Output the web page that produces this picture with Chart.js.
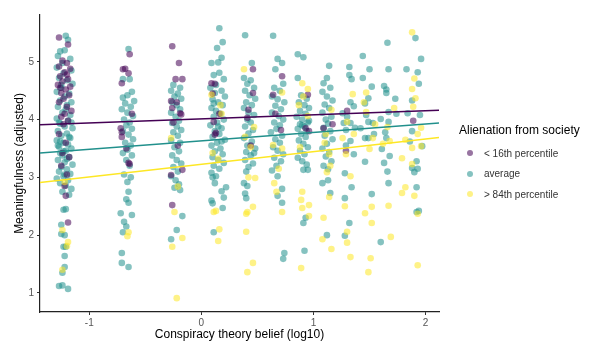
<!DOCTYPE html>
<html>
<head>
<meta charset="utf-8">
<script src="https://cdn.jsdelivr.net/npm/chart.js@4.4.1/dist/chart.umd.min.js"></script>
<style>
  body { margin: 0; background: #fff; font-family: "Liberation Sans", Arial, sans-serif; }
  #wrap { position: relative; width: 591px; height: 342px; }
  #legend { position: absolute; left: 459px; top: 123px; color: #000; }
  #legend .ttl { font-size: 12px; margin-bottom: 6px; white-space: nowrap; }
  #legend .row { height: 20.5px; font-size: 10px; color: #333; display: flex; align-items: center; white-space: nowrap; }
  #legend .dot { width: 6px; height: 6px; border-radius: 50%; margin: 0 11px 0 8px; }
</style>
</head>
<body>
<div id="wrap">
  <canvas id="chart" width="591" height="342"></canvas>
  <div id="legend"></div>
</div>
<script>
// axis ticks
const xTicks = [-1, 0, 1, 2];
const yTicks = [1, 2, 3, 4, 5];

// group labels + colours (viridis)
const groupNames = ["< 16th percentile", "average", "> 84th percentile"];
const groupColors = ["#440154", "#21908C", "#FDE725"];

// fitted lines: [x, y] at both ends of the panel
const lineLow  = [[-1.44, 3.91], [2.12, 4.16]];
const lineAvg  = [[-1.44, 3.42], [2.12, 3.94]];
const lineHigh = [[-1.44, 2.91], [2.12, 3.69]];

// points, [x, y]
const lowPts = [
  [-1.27,5.42],[-1.19,5.30],[-1.24,5.02],[-1.20,4.98],[-1.27,4.92],[-1.17,4.88],[-1.22,4.82],[-1.26,4.75],
  [-1.19,4.70],[-1.24,4.66],[-1.28,4.60],[-1.17,4.57],[-1.21,4.52],[-1.25,4.46],[-1.18,4.42],[-1.23,4.36],
  [-1.27,4.30],[-1.20,4.22],[-1.16,4.15],[-1.25,4.05],[-1.19,3.98],[-1.23,3.92],[-1.27,3.75],[-1.21,3.60],
  [-1.24,3.42],[-1.18,3.35],[-1.25,3.20],[-1.20,3.05],[-1.22,2.85],[-1.21,2.68],[-1.19,2.22],[-1.20,4.78],
  [-1.26,4.55],[-1.22,4.10],
  [-0.64,5.13],[-0.68,4.88],[-0.70,4.87],[-0.71,4.63],[-0.65,4.80],[-0.72,3.85],[-0.71,3.78],[-0.71,3.70],
  [-0.65,3.25],[-0.64,3.23],[-0.62,4.10],[-0.67,3.50],
  [-0.26,5.27],[-0.20,4.98],[-0.23,4.70],[-0.17,4.70],[-0.27,4.32],[-0.22,4.30],[-0.26,4.20],[-0.19,4.11],
  [-0.18,4.09],[-0.25,3.95],[-0.21,3.55],[-0.27,3.04],[-0.17,3.13],[-0.26,2.52],
  [0.09,4.63],[0.12,4.62],[0.11,3.96],[0.13,3.77],[0.12,3.74],[0.16,4.10],[0.10,4.45],
  [0.46,4.87],[0.46,4.46],[0.42,4.17],[0.41,4.03],[0.44,3.55],
  [0.72,4.75],[0.64,4.43],[0.71,3.82],[0.66,4.10],
  [0.95,4.43],[0.96,3.80],[0.93,3.85],
  [1.09,3.85],[1.17,3.92],
  [1.30,4.15],[1.29,3.46],
  [1.89,3.98]
];

const avgPts = [
  [-1.21,5.45],[-1.19,5.38],[-1.26,5.18],[-1.22,5.20],[-1.28,5.10],[-1.17,5.05],[-1.24,4.98],[-1.29,4.90],
  [-1.16,4.85],[-1.23,4.80],[-1.27,4.72],[-1.20,4.68],[-1.15,4.62],[-1.25,4.55],[-1.29,4.48],[-1.18,4.45],
  [-1.22,4.40],[-1.26,4.33],[-1.16,4.30],[-1.28,4.22],[-1.21,4.18],[-1.24,4.12],[-1.17,4.08],[-1.29,4.02],
  [-1.19,3.98],[-1.26,3.93],[-1.22,3.88],[-1.15,3.85],[-1.28,3.80],[-1.20,3.76],[-1.25,3.72],[-1.17,3.68],
  [-1.29,3.64],[-1.23,3.60],[-1.19,3.57],[-1.27,3.53],[-1.16,3.50],[-1.21,3.46],[-1.26,3.42],[-1.24,3.38],
  [-1.18,3.35],[-1.28,3.30],[-1.22,3.26],[-1.15,3.22],[-1.25,3.18],[-1.20,3.14],[-1.27,3.10],[-1.17,3.06],
  [-1.23,3.02],[-1.29,2.98],[-1.19,2.95],[-1.26,2.90],[-1.21,2.86],[-1.16,2.80],[-1.24,2.75],[-1.18,2.70],
  [-1.25,4.60],[-1.20,4.25],[-1.27,3.95],[-1.18,3.70],[-1.23,3.45],[-1.26,3.62],[-1.20,3.32],[-1.28,3.55],
  [-1.16,3.95],[-1.22,3.05],
  [-1.23,2.44],[-1.21,2.45],[-1.25,2.18],[-1.25,2.02],[-1.22,2.00],[-1.23,1.80],[-1.21,1.80],[-1.22,1.64],
  [-1.22,1.45],[-1.24,1.35],[-1.27,1.12],[-1.24,1.13],[-1.19,1.07],
  [-0.65,5.22],[-0.70,4.70],[-0.64,4.70],[-0.62,4.48],[-0.70,4.38],[-0.66,4.42],[-0.60,4.32],[-0.68,4.28],
  [-0.63,4.22],[-0.71,4.18],[-0.66,4.12],[-0.61,4.06],[-0.69,4.00],[-0.64,3.95],[-0.67,3.90],[-0.62,3.84],
  [-0.70,3.80],[-0.65,3.74],[-0.61,3.66],[-0.68,3.60],[-0.63,3.55],[-0.66,3.48],[-0.70,3.42],[-0.62,3.38],
  [-0.67,3.30],[-0.64,3.20],[-0.69,3.05],[-0.63,3.00],[-0.66,2.92],[-0.65,2.75],[-0.67,2.62],[-0.65,2.56],
  [-0.72,2.38],[-0.62,2.35],[-0.69,2.23],[-0.67,2.15],[-0.70,2.05],[-0.71,1.69],[-0.71,1.52],[-0.65,1.45],
  [-0.25,4.60],[-0.19,4.55],[-0.27,4.50],[-0.21,4.45],[-0.24,4.40],[-0.18,4.36],[-0.26,4.30],[-0.22,4.25],
  [-0.19,4.18],[-0.27,4.12],[-0.23,4.05],[-0.20,3.98],[-0.26,3.94],[-0.22,3.88],[-0.18,3.82],[-0.25,3.78],
  [-0.21,3.72],[-0.27,3.64],[-0.19,3.60],[-0.24,3.52],[-0.20,3.45],[-0.26,3.38],[-0.22,3.30],[-0.18,3.24],
  [-0.25,3.18],[-0.21,3.10],[-0.27,3.02],[-0.23,2.95],[-0.20,2.88],[-0.24,2.82],[-0.19,2.78],[-0.17,2.33],
  [-0.22,2.09],[-0.27,1.93],
  [0.16,5.58],[0.19,5.34],[0.14,5.24],[0.18,5.07],[0.09,4.98],[0.15,4.99],[0.16,4.81],[0.11,4.77],
  [0.20,4.70],[0.13,4.60],[0.08,4.55],[0.18,4.50],[0.12,4.46],[0.21,4.40],[0.10,4.35],[0.15,4.30],
  [0.19,4.25],[0.09,4.20],[0.13,4.15],[0.17,4.10],[0.11,4.05],[0.20,4.00],[0.14,3.95],[0.08,3.90],
  [0.18,3.85],[0.12,3.80],[0.16,3.75],[0.10,3.70],[0.21,3.65],[0.14,3.60],[0.09,3.55],[0.17,3.50],
  [0.12,3.45],[0.19,3.40],[0.10,3.35],[0.15,3.30],[0.20,3.25],[0.11,3.20],[0.16,3.15],[0.09,3.08],
  [0.13,3.02],[0.10,3.00],[0.12,2.90],[0.22,2.83],[0.18,2.76],[0.09,2.60],[0.20,2.65],[0.10,2.55],
  [0.19,2.47],[0.11,2.05],[0.15,3.88],[0.18,3.62],[0.11,4.28],
  [0.39,5.46],[0.45,4.98],[0.38,4.72],[0.44,4.68],[0.41,4.62],[0.47,4.55],[0.39,4.50],[0.43,4.42],
  [0.48,4.36],[0.40,4.30],[0.45,4.25],[0.38,4.20],[0.42,4.12],[0.47,4.08],[0.41,4.00],[0.44,3.95],
  [0.39,3.88],[0.46,3.82],[0.42,3.76],[0.38,3.68],[0.45,3.62],[0.41,3.55],[0.48,3.50],[0.40,3.44],
  [0.44,3.38],[0.39,3.30],[0.46,3.24],[0.42,3.18],[0.40,3.10],[0.38,2.90],[0.41,2.85],[0.39,2.72],
  [0.40,2.64],[0.47,3.42],
  [0.64,5.45],[0.68,5.05],[0.72,4.98],[0.66,4.87],[0.73,4.62],[0.65,4.55],[0.70,4.50],[0.63,4.40],
  [0.68,4.35],[0.74,4.30],[0.66,4.24],[0.71,4.18],[0.63,4.12],[0.69,4.06],[0.73,4.00],[0.65,3.95],
  [0.70,3.90],[0.67,3.84],[0.62,3.78],[0.72,3.72],[0.66,3.66],[0.70,3.60],[0.64,3.52],[0.68,3.46],
  [0.73,3.40],[0.65,3.34],[0.71,3.28],[0.67,3.20],[0.63,3.12],[0.68,3.02],[0.72,2.80],[0.68,2.68],
  [0.72,2.56],[0.74,1.69],[0.73,1.59],
  [0.86,5.13],[0.91,5.08],[0.86,4.72],[0.89,4.42],[0.94,4.36],[0.87,4.30],[0.92,4.25],[0.96,4.20],
  [0.88,4.15],[0.93,4.10],[0.85,4.05],[0.90,4.00],[0.95,3.95],[0.88,3.92],[0.92,3.88],[0.86,3.84],
  [0.94,3.80],[0.89,3.75],[0.93,3.70],[0.87,3.64],[0.91,3.58],[0.95,3.52],[0.88,3.46],[0.92,3.40],
  [0.86,3.34],[0.90,3.28],[0.94,3.22],[0.91,3.13],[0.95,3.13],[0.93,2.30],[0.91,2.21],[0.92,1.73],
  [0.96,3.98],[0.90,3.90],
  [1.14,4.93],[1.09,4.63],[1.12,4.72],[1.15,4.55],[1.08,4.48],[1.12,4.40],[1.17,4.33],[1.10,4.26],
  [1.14,4.20],[1.08,4.12],[1.16,4.05],[1.11,4.00],[1.13,3.93],[1.09,3.86],[1.15,3.80],[1.10,3.72],
  [1.17,3.66],[1.12,3.58],[1.08,3.50],[1.14,3.44],[1.11,3.36],[1.16,3.28],[1.09,3.20],[1.13,3.14],
  [1.08,2.90],[1.13,2.95],[1.15,2.73],[1.12,2.00],
  [1.32,4.91],[1.32,4.77],[1.34,4.70],[1.36,4.23],[1.33,4.30],[1.26,4.11],[1.27,3.94],[1.33,3.94],
  [1.29,3.82],[1.37,3.86],[1.33,3.63],[1.29,3.55],[1.28,3.07],[1.34,2.83],[1.28,2.64],[1.32,2.21],
  [1.28,1.99],[1.36,3.40],[1.30,4.05],
  [1.44,5.10],[1.50,4.87],[1.44,4.72],[1.52,4.57],[1.49,4.37],[1.46,4.28],[1.47,4.08],[1.49,3.96],
  [1.53,3.94],[1.46,3.68],[1.49,3.68],[1.46,3.27],[1.52,2.71],[1.42,3.85],[1.54,3.75],
  [1.66,5.33],[1.67,4.87],[1.63,4.58],[1.65,4.52],[1.65,4.46],[1.73,4.36],[1.67,4.13],[1.74,4.10],
  [1.60,4.01],[1.67,3.96],[1.64,3.78],[1.65,3.68],[1.61,3.49],[1.68,3.37],[1.63,3.25],[1.66,3.10],
  [1.67,2.90],[1.60,1.88],
  [1.91,5.41],[1.96,5.05],[1.83,4.87],[1.93,4.82],[1.94,4.62],[1.88,4.33],[1.84,4.11],[1.95,4.08],
  [1.88,3.80],[1.86,3.62],[1.97,3.54],[1.92,3.28],[1.88,3.16],[1.93,3.15],[1.90,3.09],[1.92,2.83],
  [1.92,2.40],[1.94,2.42]
];

const highPts = [
  [-1.22,2.92],[-1.24,2.09],[-1.19,1.88],[-1.20,1.81],[-1.24,1.40],
  [-0.65,2.05],[-0.66,1.98],
  [-0.27,3.68],[-0.21,2.84],[-0.24,2.40],[-0.17,1.95],[-0.26,1.80],[-0.22,0.91],
  [0.09,4.43],[0.17,4.25],[0.18,4.10],[0.10,3.42],[0.15,3.32],[0.11,2.40],[0.13,2.42],[0.16,2.10],[0.15,1.90],
  [0.38,4.87],[0.47,3.87],[0.39,3.70],[0.44,3.52],[0.42,3.00],[0.48,2.99],[0.46,2.49],[0.41,2.40],
  [0.40,2.37],[0.40,2.06],[0.46,1.52],[0.41,1.36],
  [0.72,4.47],[0.64,3.56],[0.72,3.50],[0.65,2.90],[0.67,2.75],[0.72,2.40],[0.69,3.15],
  [0.90,4.63],[0.95,4.53],[0.91,4.40],[0.95,4.06],[0.88,3.52],[0.90,2.75],[0.89,2.61],[0.96,2.52],
  [0.90,2.47],[0.96,2.33],[0.89,1.43],[0.87,4.25],
  [1.16,4.17],[1.11,3.75],[1.14,3.40],[1.12,3.09],[1.14,2.66],[1.09,2.30],[1.08,1.93],[1.16,1.76],
  [1.10,3.60],[1.15,3.20],
  [1.35,4.44],[1.30,3.96],[1.26,3.68],[1.29,3.40],[1.33,3.02],[1.28,2.50],[1.30,2.06],[1.30,1.87],
  [1.33,1.62],[1.36,3.75],
  [1.47,4.47],[1.45,4.30],[1.47,4.13],[1.55,3.92],[1.53,3.68],[1.50,3.49],[1.52,2.49],[1.46,2.38],
  [1.52,2.21],[1.51,1.60],[1.49,1.36],
  [1.66,3.87],[1.68,3.63],[1.62,3.58],[1.67,2.51],[1.69,1.97],[1.72,4.20],
  [1.88,5.51],[1.90,4.71],[1.88,4.53],[1.91,4.37],[1.89,4.22],[1.96,3.86],[1.93,3.75],[1.82,3.65],
  [1.88,3.51],[1.96,3.54],[1.79,3.33],[1.88,3.23],[1.79,2.73],[1.82,2.83],[1.90,2.68],[1.93,2.37],
  [1.93,1.48]
];

function hexA(hex, a) {
  const n = parseInt(hex.slice(1), 16);
  return `rgba(${n >> 16},${(n >> 8) & 255},${n & 255},${a})`;
}
const toXY = arr => arr.map(p => ({ x: p[0], y: p[1] }));

function pointSet(pts, i, order) {
  return {
    label: groupNames[i], data: toXY(pts), order,
    backgroundColor: hexA(groupColors[i], 0.55), borderWidth: 0,
    pointRadius: 3.3, pointHoverRadius: 3.3
  };
}
function lineSet(pts, i) {
  return {
    label: groupNames[i] + " fit", data: toXY(pts), order: 0, showLine: true,
    borderColor: groupColors[i], borderWidth: 1.5, pointRadius: 0, fill: false
  };
}

const axisFont = { family: "'Liberation Sans', Arial, sans-serif" };

new Chart(document.getElementById('chart').getContext('2d'), {
  type: 'scatter',
  data: {
    datasets: [
      pointSet(avgPts, 1, 3),
      pointSet(lowPts, 0, 2),
      pointSet(highPts, 2, 1),
      lineSet(lineLow, 0), lineSet(lineAvg, 1), lineSet(lineHigh, 2)
    ]
  },
  options: {
    responsive: false,
    animation: false,
    layout: { padding: { left: 0, top: 15, right: 152, bottom: 0 } },
    plugins: { legend: { display: false }, tooltip: { enabled: false } },
    scales: {
      x: {
        type: 'linear', min: -1.44, max: 2.12,
        afterBuildTicks: s => { s.ticks = xTicks.map(v => ({ value: v })); },
        afterFit: s => { s.height = 30; },
        grid: { drawOnChartArea: false, drawTicks: true, tickLength: 3, color: '#333' },
        border: { display: true, color: '#222', width: 1.2 },
        ticks: { color: '#555', font: { ...axisFont, size: 10 }, padding: 2 },
        title: { display: true, text: 'Conspiracy theory belief (log10)', color: '#000',
                 font: { ...axisFont, size: 12 }, padding: { top: 0, bottom: 0 } }
      },
      y: {
        type: 'linear', min: 0.67, max: 5.81,
        afterBuildTicks: s => { s.ticks = yTicks.map(v => ({ value: v })); },
        afterFit: s => { s.width = 40; },
        grid: { drawOnChartArea: false, drawTicks: true, tickLength: 3, color: '#333' },
        border: { display: true, color: '#222', width: 1.2 },
        ticks: { color: '#555', font: { ...axisFont, size: 10 }, padding: 3 },
        title: { display: true, text: 'Meaningfulness (adjusted)', color: '#000',
                 font: { ...axisFont, size: 12 }, padding: { top: 12, bottom: 0 } }
      }
    }
  }
});

// legend
const leg = document.getElementById('legend');
leg.innerHTML = '<div class="ttl">Alienation from society</div>' +
  groupNames.map((n, i) =>
    `<div class="row"><span class="dot" style="background:${hexA(groupColors[i], 0.55)}"></span>${n}</div>`
  ).join('');
</script>
</body>
</html>
